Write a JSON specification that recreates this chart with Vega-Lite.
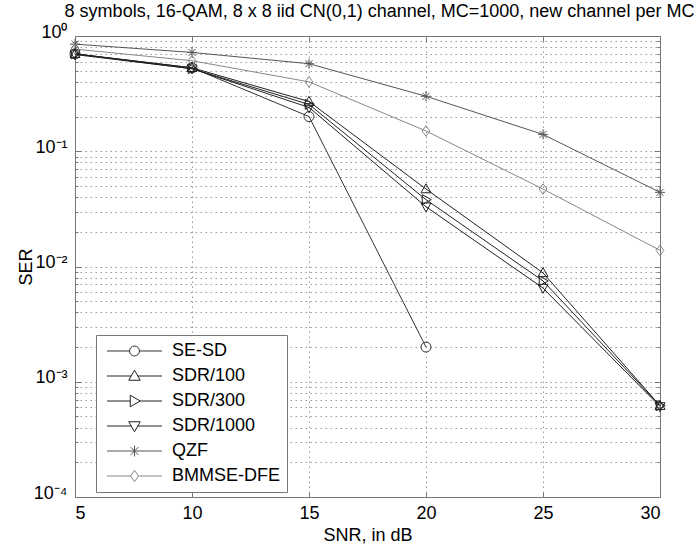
{
  "$schema": "https://vega.github.io/schema/vega-lite/v6.json",
  "width": 585,
  "height": 461,
  "autosize": {"type": "none"},
  "padding": {"left": 75, "top": 36, "right": 40, "bottom": 47},
  "background": "white",
  "title": {"text": "8 symbols, 16-QAM, 8 x 8 iid CN(0,1) channel, MC=1000, new channel per MC", "fontSize": 18, "fontWeight": "normal", "font": "Liberation Sans", "color": "#000", "offset": 2, "dx": 12, "anchor": "middle"},
  "config": {"view": {"stroke": "#777", "strokeWidth": 1}, "font": "Liberation Sans"},
  "data": {"values": [
    {"series": "SE-SD", "snr": 5, "ser": 0.70},
    {"series": "SE-SD", "snr": 10, "ser": 0.53},
    {"series": "SE-SD", "snr": 15, "ser": 0.20},
    {"series": "SE-SD", "snr": 20, "ser": 0.002},
    {"series": "SDR/100", "snr": 5, "ser": 0.70},
    {"series": "SDR/100", "snr": 10, "ser": 0.53},
    {"series": "SDR/100", "snr": 15, "ser": 0.27},
    {"series": "SDR/100", "snr": 20, "ser": 0.047},
    {"series": "SDR/100", "snr": 25, "ser": 0.0088},
    {"series": "SDR/100", "snr": 30, "ser": 0.00062},
    {"series": "SDR/300", "snr": 5, "ser": 0.70},
    {"series": "SDR/300", "snr": 10, "ser": 0.52},
    {"series": "SDR/300", "snr": 15, "ser": 0.255},
    {"series": "SDR/300", "snr": 20, "ser": 0.038},
    {"series": "SDR/300", "snr": 25, "ser": 0.0075},
    {"series": "SDR/300", "snr": 30, "ser": 0.00062},
    {"series": "SDR/1000", "snr": 5, "ser": 0.69},
    {"series": "SDR/1000", "snr": 10, "ser": 0.52},
    {"series": "SDR/1000", "snr": 15, "ser": 0.24},
    {"series": "SDR/1000", "snr": 20, "ser": 0.033},
    {"series": "SDR/1000", "snr": 25, "ser": 0.0065},
    {"series": "SDR/1000", "snr": 30, "ser": 0.00061},
    {"series": "QZF", "snr": 5, "ser": 0.85},
    {"series": "QZF", "snr": 10, "ser": 0.72},
    {"series": "QZF", "snr": 15, "ser": 0.575},
    {"series": "QZF", "snr": 20, "ser": 0.30},
    {"series": "QZF", "snr": 25, "ser": 0.14},
    {"series": "QZF", "snr": 30, "ser": 0.044},
    {"series": "BMMSE-DFE", "snr": 5, "ser": 0.77},
    {"series": "BMMSE-DFE", "snr": 10, "ser": 0.61},
    {"series": "BMMSE-DFE", "snr": 15, "ser": 0.40},
    {"series": "BMMSE-DFE", "snr": 20, "ser": 0.15},
    {"series": "BMMSE-DFE", "snr": 25, "ser": 0.047},
    {"series": "BMMSE-DFE", "snr": 30, "ser": 0.0138}
  ]},
  "layer": [
    {
      "mark": {"type": "line", "strokeWidth": 1, "clip": false},
      "encoding": {
        "x": {"field": "snr", "type": "quantitative", "scale": {"domain": [5, 30], "nice": false, "zero": false},
          "axis": {"values": [5, 10, 15, 20, 25, 30], "title": "SNR, in dB", "grid": true, "gridDash": [1.5, 3.5], "gridColor": "#999", "gridWidth": 1,
            "tickSize": -5, "tickColor": "#777", "domainColor": "#777", "labelFontSize": 18, "labelColor": "#000", "labelPadding": 12, "labelFont": "Liberation Sans",
            "titleFontSize": 18, "titleFontWeight": "normal", "titleColor": "#000", "titlePadding": 4, "titleFont": "Liberation Sans"}},
        "y": {"field": "ser", "type": "quantitative", "scale": {"type": "log", "domain": [0.0001, 1], "nice": false},
          "axis": {"values": [0.0001, 0.0002, 0.0003, 0.0004, 0.0005, 0.0006, 0.0007, 0.0008, 0.0009, 0.001, 0.002, 0.003, 0.004, 0.005, 0.006, 0.007, 0.008, 0.009, 0.01, 0.02, 0.03, 0.04, 0.05, 0.06, 0.07, 0.08, 0.09, 0.1, 0.2, 0.3, 0.4, 0.5, 0.6, 0.7, 0.8, 0.9, 1],
            "labelExpr": "datum.value == 1 ? '10⁰' : datum.value == 0.1 ? '10⁻¹' : datum.value == 0.01 ? '10⁻²' : datum.value == 0.001 ? '10⁻³' : datum.value == 0.0001 ? '10⁻⁴' : ''",
            "title": "SER", "grid": true, "gridDash": [1.5, 3.5], "gridColor": "#999", "gridWidth": 1,
            "tickSize": {"condition": {"test": "indexof([1, 0.1, 0.01, 0.001, 0.0001], datum.value) >= 0", "value": -6}, "value": -3},
            "tickColor": "#777", "domainColor": "#777", "labelFontSize": 18, "labelColor": "#000", "labelPadding": 14, "labelOffset": -4, "labelFont": "Liberation Sans", "labelOverlap": false,
            "titleFontSize": 18, "titleFontWeight": "normal", "titleColor": "#000", "titleX": -40, "titleFont": "Liberation Sans"}},
        "color": {"field": "series", "type": "nominal", "legend": null,
          "scale": {"domain": ["SE-SD", "SDR/100", "SDR/300", "SDR/1000", "QZF", "BMMSE-DFE"], "range": ["#333333", "#222222", "#222222", "#222222", "#555555", "#888888"]}},
        "detail": {"field": "series"}
      }
    },
    {
      "mark": {"type": "point", "filled": false, "size": 100, "strokeWidth": 1, "opacity": 1, "clip": false},
      "encoding": {
        "x": {"field": "snr", "type": "quantitative", "axis": null},
        "y": {"field": "ser", "type": "quantitative", "axis": null},
        "color": {"field": "series", "type": "nominal", "legend": null,
          "scale": {"domain": ["SE-SD", "SDR/100", "SDR/300", "SDR/1000", "QZF", "BMMSE-DFE"], "range": ["#333333", "#222222", "#222222", "#222222", "#555555", "#888888"]}},
        "shape": {"field": "series", "type": "nominal", "legend": null,
          "scale": {"domain": ["SE-SD", "SDR/100", "SDR/300", "SDR/1000", "QZF", "BMMSE-DFE"],
            "range": ["circle", "M-1,0.75L0,-1.05L1,0.75Z", "M-0.75,-1L1.05,0L-0.75,1Z", "M-1,-0.75L1,-0.75L0,1.05Z", "M-1,0L1,0M0,-1L0,1M-0.7,-0.7L0.7,0.7M-0.7,0.7L0.7,-0.7", "M-0.78,0L0,-1.05L0.78,0L0,1.05Z"]}}
      }
    },
    {
      "mark": {"type": "point", "filled": false, "strokeWidth": 1, "opacity": 0},
      "encoding": {
        "x": {"field": "snr", "type": "quantitative",
          "axis": {"orient": "top", "values": [5, 10, 15, 20, 25, 30], "labels": false, "title": null, "grid": false, "tickSize": -5, "tickColor": "#777", "domainColor": "#777"}},
        "y": {"field": "ser", "type": "quantitative",
          "axis": {"orient": "right", "values": [0.0001, 0.0002, 0.0003, 0.0004, 0.0005, 0.0006, 0.0007, 0.0008, 0.0009, 0.001, 0.002, 0.003, 0.004, 0.005, 0.006, 0.007, 0.008, 0.009, 0.01, 0.02, 0.03, 0.04, 0.05, 0.06, 0.07, 0.08, 0.09, 0.1, 0.2, 0.3, 0.4, 0.5, 0.6, 0.7, 0.8, 0.9, 1],
            "labels": false, "title": null, "grid": false,
            "tickSize": {"condition": {"test": "indexof([1, 0.1, 0.01, 0.001, 0.0001], datum.value) >= 0", "value": -6}, "value": -3},
            "tickColor": "#777", "domainColor": "#777"}},
        "color": {"field": "series", "type": "nominal",
          "scale": {"domain": ["SE-SD", "SDR/100", "SDR/300", "SDR/1000", "QZF", "BMMSE-DFE"], "range": ["#333333", "#222222", "#222222", "#222222", "#555555", "#888888"]},
          "legend": {"orient": "none", "legendX": 21, "legendY": 299, "title": null, "symbolSize": 100, "symbolStrokeWidth": 1, "symbolOpacity": 1,
            "labelFontSize": 18, "labelFont": "Liberation Sans", "labelColor": "#000", "labelOffset": 51, "strokeColor": "#777", "fillColor": "white", "padding": 7, "rowPadding": 7}},
        "shape": {"field": "series", "type": "nominal",
          "scale": {"domain": ["SE-SD", "SDR/100", "SDR/300", "SDR/1000", "QZF", "BMMSE-DFE"],
            "range": [
              "M-1,0L3.5,0M5.5,0L10,0M3.5,0A1,1,0,1,1,5.5,0A1,1,0,1,1,3.5,0Z",
              "M-1,0L3.84,0M5.16,0L10,0M3.35,0.85L4.5,-1.15L5.65,0.85Z",
              "M-1,0L3.65,0M5.65,0L10,0M3.65,-1.15L5.65,0L3.65,1.15Z",
              "M-1,0L3.84,0M5.16,0L10,0M3.35,-0.85L5.65,-0.85L4.5,1.15Z",
              "M-1,0L10,0M4.5,-1.1L4.5,1.1M3.72,-0.78L5.28,0.78M3.72,0.78L5.28,-0.78",
              "M-1,0L3.7,0M5.3,0L10,0M3.7,0L4.5,-1.15L5.3,0L4.5,1.15Z"
            ]},
          "legend": {"orient": "none", "legendX": 21, "legendY": 299, "title": null, "symbolSize": 100, "symbolStrokeWidth": 1, "symbolOpacity": 1,
            "labelFontSize": 18, "labelFont": "Liberation Sans", "labelColor": "#000", "labelOffset": 51, "strokeColor": "#777", "fillColor": "white", "padding": 7, "rowPadding": 7}}
      }
    }
  ],
  "resolve": {"scale": {"color": "independent", "shape": "independent"}, "axis": {"x": "independent", "y": "independent"}}
}
